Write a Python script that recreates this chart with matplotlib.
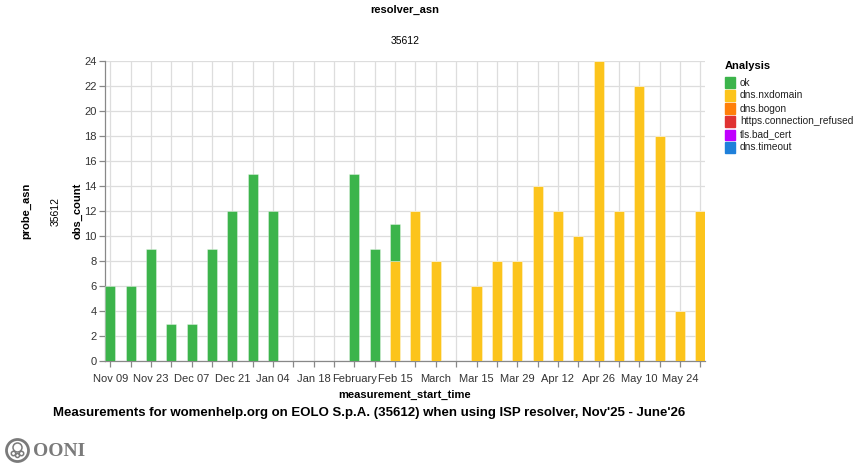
import numpy as np
import matplotlib
matplotlib.use("Agg")
import matplotlib.pyplot as plt
import matplotlib.dates as mdates
from matplotlib.patches import Rectangle, Ellipse

plt.rcParams['font.family'] = ['Liberation Sans', 'DejaVu Sans']

weeks = ["2025-11-09", "2025-11-16", "2025-11-23", "2025-11-30", "2025-12-07",
         "2025-12-14", "2025-12-21", "2025-12-28", "2026-01-04", "2026-01-11",
         "2026-01-18", "2026-01-25", "2026-02-01", "2026-02-08", "2026-02-15",
         "2026-02-22", "2026-03-01", "2026-03-08", "2026-03-15", "2026-03-22",
         "2026-03-29", "2026-04-05", "2026-04-12", "2026-04-19", "2026-04-26",
         "2026-05-03", "2026-05-10", "2026-05-17", "2026-05-24", "2026-05-31"]
ok = [6, 6, 9, 3, 3, 9, 12, 15, 12, 0, 0, 0, 15, 9, 3,
      0, 0, 0, 0, 0, 0, 0, 0, 0, 0, 0, 0, 0, 0, 0]
nxdomain = [0, 0, 0, 0, 0, 0, 0, 0, 0, 0, 0, 0, 0, 0, 8,
            12, 8, 0, 6, 8, 8, 14, 12, 10, 24, 12, 22, 18, 4, 12]
tick_labels = ["Nov 09", "", "Nov 23", "", "Dec 07", "", "Dec 21", "", "Jan 04", "",
               "Jan 18", "", "February", "", "Feb 15", "", "March", "", "Mar 15", "",
               "Mar 29", "", "Apr 12", "", "Apr 26", "", "May 10", "", "May 24", ""]
legend_labels = ["ok", "dns.nxdomain", "dns.bogon", "https.connection_refused",
                 "tls.bad_cert", "dns.timeout"]
legend_colors = ["#3cb44b", "#fcc41c", "#ff7f0a", "#e03232", "#c000ff", "#1f80da"]

x = mdates.date2num(np.array(weeks, dtype="datetime64[D]").astype(object))
ok = np.array(ok)
nxdomain = np.array(nxdomain)

W, H = 857, 476
fig = plt.figure(figsize=(W / 100, H / 100), dpi=100)
L, R, T, B = 105, 705, 61, 361
ax = fig.add_axes([L / W, (H - B) / H, (R - L) / W, (B - T) / H])

bw = 3.45
ax.bar(x, nxdomain, width=bw, color=legend_colors[1],
       edgecolor=(1, 1, 1, 0.35), linewidth=0.7, zorder=3)
ax.bar(x, ok, width=bw, bottom=nxdomain, color=legend_colors[0],
       edgecolor=(1, 1, 1, 0.35), linewidth=0.7, zorder=3)

ax.set_xlim(x[0] - 1.8, x[-1] + 1.6)
ax.set_ylim(0, 24)
ax.set_yticks(np.arange(0, 25, 2))
ax.set_xticks(x)
ax.set_xticklabels(tick_labels)
ax.grid(True, color="#dddddd", linewidth=0.9, zorder=0)
ax.set_axisbelow(True)
for s in ["top", "right"]:
    ax.spines[s].set_visible(False)
for s in ["left", "bottom"]:
    ax.spines[s].set_color("#888888")
    ax.spines[s].set_linewidth(0.9)
ax.tick_params(axis="both", colors="#888888", labelcolor="#333333",
               labelsize=8, length=4, width=0.9, pad=2)
ax.tick_params(axis="x", pad=5.5)

ax.set_ylabel("obs_count", fontsize=8, fontweight="bold")
ax.yaxis.set_label_coords(83 / W, 1 - 211 / H, transform=fig.transFigure)
ax.set_xlabel("measurement_start_time", fontsize=8, fontweight="bold", labelpad=4)

fig.text(405 / W, 1 - 10 / H, "resolver_asn", ha="center", va="center",
         fontsize=8, fontweight="bold")
fig.text(405 / W, 1 - 41 / H, "35612", ha="center", va="center", fontsize=7.5)
fig.text(26 / W, 1 - 211 / H, "probe_asn", ha="center", va="center",
         rotation=90, fontsize=8, fontweight="bold")
fig.text(56 / W, 1 - 211 / H, "35612", ha="center", va="center",
         rotation=90, fontsize=7.5)

# legend
fig.text(725 / W, 1 - 66 / H, "Analysis", ha="left", va="center",
         fontsize=8, fontweight="bold")
for i, (lab, col) in enumerate(zip(legend_labels, legend_colors)):
    yc = 82.5 + 13 * i
    fig.patches.append(Rectangle((725 / W, 1 - (yc + 5) / H), 10 / W, 10 / H,
                                 transform=fig.transFigure, color=col))
    fig.text(740 / W, 1 - yc / H, lab, ha="left", va="center", fontsize=7.25,
             color="#222222")

fig.text(369 / W, 1 - 413 / H,
         "Measurements for womenhelp.org on EOLO S.p.A. (35612) when using ISP resolver, Nov'25 - June'26",
         ha="center", va="center", fontsize=9.55, fontweight="bold")

# OONI logo (ring with a small octopus-like mark)
cx, cy = 17.5, 450.5
logo_col = "#7a7a7a"
fig.patches.append(Ellipse((cx / W, 1 - cy / H), 22 / W, 22 / H, transform=fig.transFigure,
                           fill=False, edgecolor=logo_col, linewidth=2))
for dx, dy, r in [(0, -3, 4.5), (-4, 3, 2.2), (4, 3, 2.2), (0, 5, 2.0)]:
    fig.patches.append(Ellipse(((cx + dx) / W, 1 - (cy + dy) / H), 2 * r / W, 2 * r / H,
                               transform=fig.transFigure, fill=False,
                               edgecolor=logo_col, linewidth=1.1))
fig.text(33 / W, 1 - 451 / H, "OONI", ha="left", va="center", fontsize=14,
         fontweight="bold", color=logo_col, family=["Liberation Serif", "DejaVu Serif"])

fig.savefig("out.png", dpi=100)
